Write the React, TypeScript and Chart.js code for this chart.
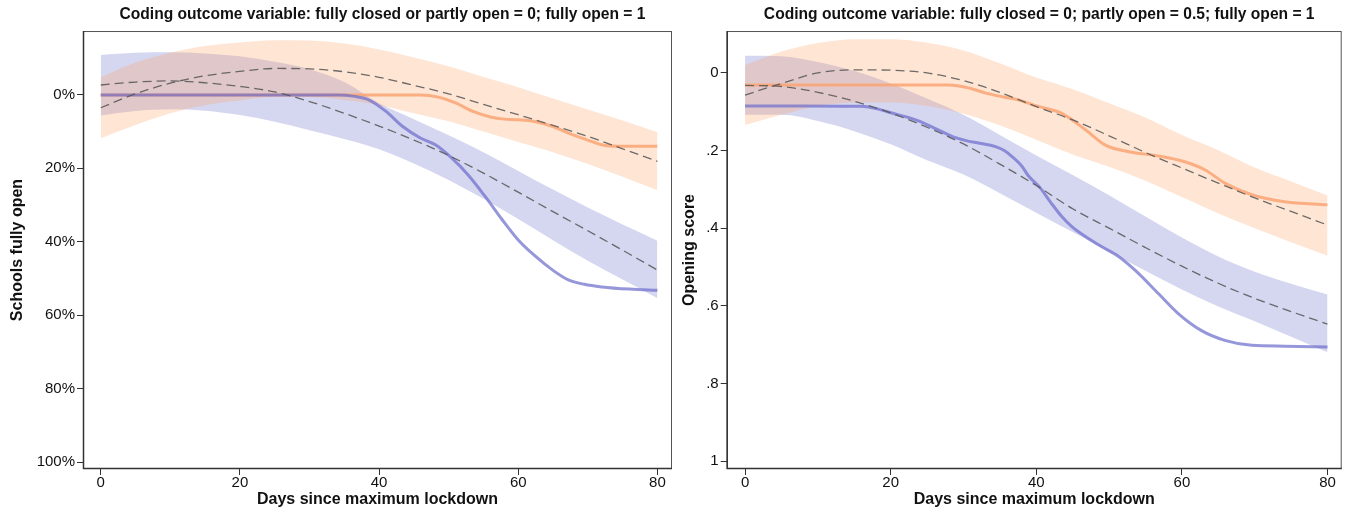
import React, { useEffect, useRef } from 'react';
import { Chart, registerables } from 'chart.js';

Chart.register(...registerables);

const FONT = "'Liberation Sans', Arial, Helvetica, sans-serif";

// ---------- shared ----------
const DAYS = [0, 5, 10, 15, 20, 25, 30, 35, 40, 45, 50, 55, 60, 65, 70, 75, 80];
const X_TICKS = [0, 20, 40, 60, 80];
const X_TITLE = 'Days since maximum lockdown';

// ---------- left panel (share fully open, %) ----------
const L_TITLE = 'Coding outcome variable: fully closed or partly open = 0; fully open = 1';
const L_Y_TITLE = 'Schools fully open';
const L_Y_TICKS = [0, 20, 40, 60, 80, 100];
const L_Y_LABELS = ['0%', '20%', '40%', '60%', '80%', '100%'];

const L_BLUE_FIT = [-2.7, -3.5, -3.8, -3.3, -2.3, -0.8, 1.8, 5, 8.5, 12.3, 16.5, 21.3, 26.5, 31.8, 37, 42.3, 47.7];
const L_BLUE_LO = [-10.9, -11.5, -11.6, -11.3, -10.5, -9, -7, -3.5, 2.3, 6.6, 11, 15.6, 20.7, 25.8, 30.7, 35.3, 39.7];
const L_BLUE_HI = [5.6, 4.4, 3.9, 4.3, 5.5, 7.3, 9.6, 12, 14.8, 18.7, 23.2, 28.3, 33.8, 39.6, 45.2, 50.3, 55.4];

const L_ORANGE_FIT = [3.5, -0.3, -3.2, -5.2, -6.4, -7.2, -7.1, -6.3, -4.8, -2.6, -0.3, 2.6, 5.4, 8.3, 11.3, 14.7, 18.1];
const L_ORANGE_LO = [-4.8, -8.8, -11.5, -13.3, -14.3, -14.9, -14.8, -14, -12.4, -10.2, -7.8, -4.9, -2.1, 1, 4, 7, 10.2];
const L_ORANGE_HI = [11.8, 8.2, 5, 2.8, 1.5, 0.5, 0.6, 1.4, 2.8, 5, 7.2, 10, 12.8, 15.6, 18.8, 22.3, 26];

const L_BLUE_LINE_DAYS = [0, 10, 20, 30, 34, 36.5, 38.6, 41, 43.4, 46, 48.1, 50.5, 52.9, 55.3, 57.7, 60, 62.5, 65, 67.2, 69.5, 72, 76, 80];
const L_BLUE_LINE = [0, 0, 0, 0, 0, 0.4, 1.4, 4.5, 8.6, 11.8, 13.6, 17.3, 22, 27.8, 34, 39.5, 44, 47.8, 50.4, 51.6, 52.3, 52.9, 53.2];

const L_ORANGE_LINE_DAYS = [0, 10, 20, 30, 40, 46, 48.5, 51, 53.5, 56, 58, 60, 62.5, 65, 67.2, 70, 72, 74.4, 77, 80];
const L_ORANGE_LINE = [0, 0, 0, 0, 0, 0, 0.6, 2.2, 4.5, 6, 6.6, 6.8, 7.3, 8.6, 10.4, 12.3, 13.6, 14, 14, 14];

// ---------- right panel (opening score) ----------
const R_TITLE = 'Coding outcome variable: fully closed = 0; partly open = 0.5; fully open = 1';
const R_Y_TITLE = 'Opening score';
const R_Y_TICKS = [0, 0.2, 0.4, 0.6, 0.8, 1];
const R_Y_LABELS = ['0', '.2', '.4', '.6', '.8', '1'];

const R_BLUE_FIT = [0.032, 0.035, 0.05, 0.073, 0.103, 0.14, 0.183, 0.235, 0.29, 0.35, 0.4, 0.45, 0.498, 0.542, 0.581, 0.615, 0.647];
const R_BLUE_LO = [-0.044, -0.043, -0.028, -0.005, 0.027, 0.066, 0.108, 0.16, 0.213, 0.263, 0.315, 0.37, 0.424, 0.473, 0.512, 0.543, 0.571];
const R_BLUE_HI = [0.108, 0.108, 0.124, 0.15, 0.184, 0.225, 0.262, 0.31, 0.36, 0.41, 0.46, 0.51, 0.558, 0.602, 0.64, 0.68, 0.72];

const R_ORANGE_FIT = [0.057, 0.027, 0.0, -0.008, -0.007, 0.0, 0.02, 0.05, 0.087, 0.121, 0.162, 0.205, 0.245, 0.284, 0.322, 0.357, 0.392];
const R_ORANGE_LO = [-0.02, -0.055, -0.077, -0.087, -0.087, -0.078, -0.058, -0.025, 0.012, 0.042, 0.078, 0.115, 0.16, 0.199, 0.244, 0.28, 0.316];
const R_ORANGE_HI = [0.134, 0.108, 0.085, 0.077, 0.076, 0.085, 0.105, 0.135, 0.172, 0.21, 0.242, 0.278, 0.32, 0.362, 0.4, 0.436, 0.471];

const R_BLUE_LINE_DAYS = [0, 8, 16, 18, 20.3, 23.9, 26, 28.5, 30.5, 32.2, 34.4, 35.6, 36.7, 38, 39, 40.4, 42, 43.5, 45, 46.8, 49, 51.3, 53.6, 56.8, 59.5, 62.7, 65.9, 69.6, 74.1, 80];
const R_BLUE_LINE = [0.085, 0.085, 0.086, 0.092, 0.104, 0.124, 0.142, 0.164, 0.175, 0.181, 0.19, 0.2, 0.216, 0.24, 0.267, 0.293, 0.334, 0.37, 0.398, 0.422, 0.448, 0.473, 0.509, 0.569, 0.62, 0.664, 0.689, 0.702, 0.704, 0.706];

const R_ORANGE_LINE_DAYS = [0, 10, 20, 28, 31, 33.1, 35.5, 37.6, 40, 43.5, 46.8, 49.5, 52.7, 56.8, 60.4, 63.2, 65.9, 69.6, 74.1, 80];
const R_ORANGE_LINE = [0.031, 0.031, 0.031, 0.031, 0.04, 0.052, 0.062, 0.07, 0.085, 0.104, 0.147, 0.186, 0.203, 0.214, 0.229, 0.25, 0.284, 0.314, 0.332, 0.34];

// ---------- styles ----------
const BLUE_FILL = 'rgba(100,105,200,0.27)';
const ORANGE_FILL = 'rgba(250,160,100,0.28)';
const BLUE_LINE_COLOR = 'rgba(110,110,205,0.72)';
const ORANGE_LINE_COLOR = 'rgba(250,165,115,0.85)';
const FIT_COLOR = 'rgba(85,85,85,0.85)';

const zip = (xs: number[], ys: number[]) => xs.map((x, i) => ({ x, y: ys[i] }));

const boxPlugin = {
  id: 'plotBox',
  afterLayout(chart: any) {
    const tb = chart.titleBlock;
    if (tb) {
      tb.left += 5;
      tb.right += 5;
    }
  },
  afterDraw(chart: any) {
    const { ctx, chartArea: a } = chart;
    ctx.save();
    ctx.strokeStyle = '#555';
    ctx.lineWidth = 1;
    ctx.strokeRect(a.left + 0.5, a.top + 0.5, a.right - a.left - 1, a.bottom - a.top - 1);
    ctx.beginPath();
    ctx.strokeStyle = '#333';
    ctx.lineWidth = 1.5;
    ctx.moveTo(a.left + 0.5, a.top);
    ctx.lineTo(a.left + 0.5, a.bottom - 0.5);
    ctx.lineTo(a.right, a.bottom - 0.5);
    ctx.stroke();
    ctx.restore();
  },
};

type Panel = {
  title: string;
  yTitle: string;
  yTicks: number[];
  yLabels: string[];
  yMin: number;
  yMax: number;
  xMin: number;
  xMax: number;
  yWidth: number;
  padRight: number;
  yTitlePad: number;
  blueFit: number[];
  blueLo: number[];
  blueHi: number[];
  orangeFit: number[];
  orangeLo: number[];
  orangeHi: number[];
  blueLineDays: number[];
  blueLine: number[];
  orangeLineDays: number[];
  orangeLine: number[];
};

function makeConfig(p: Panel): any {
  const common = { pointRadius: 0, cubicInterpolationMode: 'monotone' };
  const tickFont = { family: FONT, size: 15 };
  const titleFont = { family: FONT, size: 16, weight: 'bold' };
  const headFont = { family: FONT, size: 15.6, weight: 'bold' };
  return {
    type: 'line',
    data: {
      datasets: [
        { ...common, data: zip(DAYS, p.blueLo), borderWidth: 0, borderColor: 'transparent', fill: false, order: 10 },
        { ...common, data: zip(DAYS, p.blueHi), borderWidth: 0, borderColor: 'transparent', backgroundColor: BLUE_FILL, fill: '-1', order: 9 },
        { ...common, data: zip(DAYS, p.orangeLo), borderWidth: 0, borderColor: 'transparent', fill: false, order: 8 },
        { ...common, data: zip(DAYS, p.orangeHi), borderWidth: 0, borderColor: 'transparent', backgroundColor: ORANGE_FILL, fill: '-1', order: 7 },
        { ...common, data: zip(p.orangeLineDays, p.orangeLine), borderWidth: 3, borderColor: ORANGE_LINE_COLOR, fill: false, order: 6 },
        { ...common, data: zip(p.blueLineDays, p.blueLine), borderWidth: 3, borderColor: BLUE_LINE_COLOR, fill: false, order: 5 },
        { ...common, data: zip(DAYS, p.blueFit), borderWidth: 1.3, borderColor: FIT_COLOR, borderDash: [9, 5], fill: false, order: 4 },
        { ...common, data: zip(DAYS, p.orangeFit), borderWidth: 1.3, borderColor: FIT_COLOR, borderDash: [9, 5], fill: false, order: 3 },
      ],
    },
    options: {
      animation: false,
      responsive: false,
      maintainAspectRatio: false,
      devicePixelRatio: 1,
      layout: { padding: { left: 0, right: p.padRight, top: 0, bottom: 0 } },
      plugins: {
        legend: { display: false },
        tooltip: { enabled: false },
        title: {
          display: true,
          text: p.title,
          fullSize: false,
          color: '#111',
          font: headFont,
          padding: { top: 5.3, bottom: 7 },
        },
      },
      scales: {
        x: {
          type: 'linear',
          min: p.xMin,
          max: p.xMax,
          afterBuildTicks: (s: any) => {
            s.ticks = X_TICKS.map((v) => ({ value: v }));
          },
          afterFit: (s: any) => {
            s.height = 43;
          },
          border: { display: false },
          grid: { display: true, drawOnChartArea: false, drawTicks: true, tickLength: 6, color: '#333', lineWidth: 1 },
          ticks: {
            autoSkip: false,
            maxRotation: 0,
            padding: -1,
            color: '#111',
            font: tickFont,
            callback: (v: any) => String(v),
          },
          title: { display: true, text: X_TITLE, color: '#111', font: titleFont, padding: { top: 0, bottom: 2.4 } },
        },
        y: {
          type: 'linear',
          reverse: true,
          min: p.yMin,
          max: p.yMax,
          afterBuildTicks: (s: any) => {
            s.ticks = p.yTicks.map((v) => ({ value: v }));
          },
          afterFit: (s: any) => {
            s.width = p.yWidth;
          },
          border: { display: false },
          grid: { display: true, drawOnChartArea: false, drawTicks: true, tickLength: 6, color: '#333', lineWidth: 1 },
          ticks: {
            autoSkip: false,
            padding: 2,
            color: '#111',
            font: tickFont,
            callback: (v: any) => {
              const i = p.yTicks.findIndex((t) => Math.abs(t - v) < 1e-9);
              return i >= 0 ? p.yLabels[i] : '';
            },
          },
          title: { display: true, text: p.yTitle, color: '#111', font: titleFont, padding: { top: p.yTitlePad, bottom: 0 } },
        },
      },
    },
    plugins: [boxPlugin],
  };
}

const LEFT: Panel = {
  title: L_TITLE,
  yTitle: L_Y_TITLE,
  yTicks: L_Y_TICKS,
  yLabels: L_Y_LABELS,
  yMin: -17.4,
  yMax: 101.9,
  xMin: -2.55,
  xMax: 82.1,
  yWidth: 83,
  padRight: 8,
  yTitlePad: 8.4,
  blueFit: L_BLUE_FIT,
  blueLo: L_BLUE_LO,
  blueHi: L_BLUE_HI,
  orangeFit: L_ORANGE_FIT,
  orangeLo: L_ORANGE_LO,
  orangeHi: L_ORANGE_HI,
  blueLineDays: L_BLUE_LINE_DAYS,
  blueLine: L_BLUE_LINE,
  orangeLineDays: L_ORANGE_LINE_DAYS,
  orangeLine: L_ORANGE_LINE,
};

const RIGHT: Panel = {
  title: R_TITLE,
  yTitle: R_Y_TITLE,
  yTicks: R_Y_TICKS,
  yLabels: R_Y_LABELS,
  yMin: -0.108,
  yMax: 1.0206,
  xMin: -2.52,
  xMax: 81.95,
  yWidth: 46.7,
  padRight: 4.3,
  yTitlePad: 0.4,
  blueFit: R_BLUE_FIT,
  blueLo: R_BLUE_LO,
  blueHi: R_BLUE_HI,
  orangeFit: R_ORANGE_FIT,
  orangeLo: R_ORANGE_LO,
  orangeHi: R_ORANGE_HI,
  blueLineDays: R_BLUE_LINE_DAYS,
  blueLine: R_BLUE_LINE,
  orangeLineDays: R_ORANGE_LINE_DAYS,
  orangeLine: R_ORANGE_LINE,
};

function PanelChart({ panel, left, width }: { panel: Panel; left: number; width: number }) {
  const ref = useRef<HTMLCanvasElement | null>(null);
  useEffect(() => {
    if (!ref.current) return;
    const chart = new Chart(ref.current, makeConfig(panel));
    return () => chart.destroy();
  }, [panel]);
  return (
    <canvas
      ref={ref}
      width={width}
      height={512}
      style={{ position: 'absolute', left, top: 0, width, height: 512 }}
    />
  );
}

export default function App() {
  return (
    <div style={{ position: 'absolute', left: 0, top: 0, width: 1346, height: 512, background: '#fff' }}>
      <PanelChart panel={LEFT} left={0} width={680} />
      <PanelChart panel={RIGHT} left={680} width={666} />
    </div>
  );
}
